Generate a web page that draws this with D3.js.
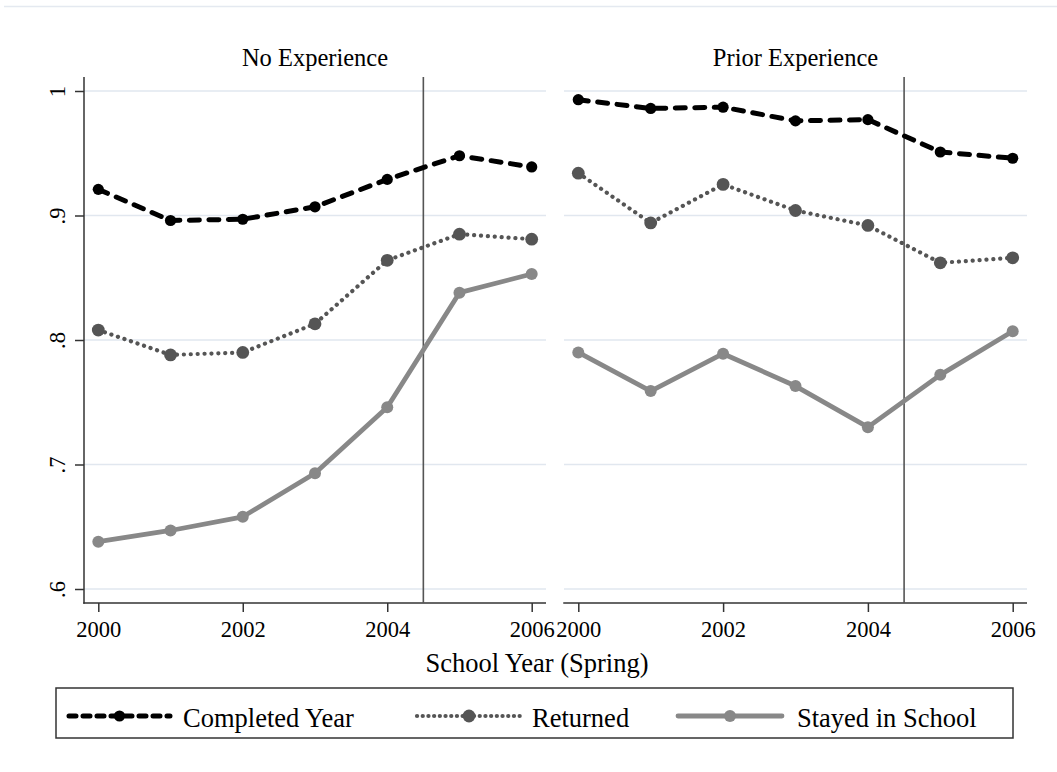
<!DOCTYPE html>
<html>
<head>
<meta charset="utf-8">
<script src="https://cdn.jsdelivr.net/npm/d3@7"></script>
<style>
  html, body { margin: 0; padding: 0; background: #fff; }
  svg { display: block; }
  text { font-family: "Liberation Serif", "Times New Roman", serif; fill: #000; }
</style>
</head>
<body>
<svg id="chart" width="1057" height="772"></svg>
<script>
// School years (spring term)
const years = [2000, 2001, 2002, 2003, 2004, 2005, 2006];
const panels = ["No Experience", "Prior Experience"];
const seriesNames = ["Completed Year", "Returned", "Stayed in School"];

// Shares by panel
const completedNoExp    = [0.921, 0.896, 0.897, 0.907, 0.929, 0.948, 0.939];
const returnedNoExp     = [0.808, 0.788, 0.790, 0.813, 0.864, 0.885, 0.881];
const stayedNoExp       = [0.638, 0.647, 0.658, 0.693, 0.746, 0.838, 0.853];
const completedPriorExp = [0.993, 0.986, 0.987, 0.976, 0.977, 0.951, 0.946];
const returnedPriorExp  = [0.934, 0.894, 0.925, 0.904, 0.892, 0.862, 0.866];
const stayedPriorExp    = [0.790, 0.759, 0.789, 0.763, 0.730, 0.772, 0.807];

const yTicks = [0.6, 0.7, 0.8, 0.9, 1.0];
const yTickLabels = [".6", ".7", ".8", ".9", "1"];
const xTicks = [2000, 2002, 2004, 2006];
const policyYear = 2004.5;

const panelData = [
  [completedNoExp, returnedNoExp, stayedNoExp],
  [completedPriorExp, returnedPriorExp, stayedPriorExp]
];

// Series styling
const styles = [
  { color: "#000000", width: 5.0, dash: "10,9.5", legendDash: "7,7", cap: "round", r: 5.6 },
  { color: "#555555", width: 4.2, dash: "0.1,6.8", legendDash: "0.1,5.6", cap: "round", r: 6.4 },
  { color: "#888888", width: 4.8, dash: null, legendDash: null, cap: "butt", r: 6.0 }
];

const svg = d3.select("#chart");

// Outer graph-region edge
svg.append("line")
  .attr("x1", 4).attr("x2", 1057).attr("y1", 6.5).attr("y2", 6.5)
  .attr("stroke", "#e4e9f0").attr("stroke-width", 1.5);

const plotTop = 77, plotBottom = 603;
const panelBoxes = [
  { left: 84, right: 546 },
  { left: 564, right: 1027 }
];
const xInset = 14.3;

const y = d3.scaleLinear().domain([0.6, 1.0]).range([589, 91]);

panelBoxes.forEach((box, pi) => {
  const x = d3.scaleLinear()
    .domain([d3.min(years), d3.max(years)])
    .range([box.left + xInset, box.right - xInset]);
  const g = svg.append("g");

  // Horizontal gridlines
  g.selectAll("line.grid").data(yTicks).join("line")
    .attr("class", "grid")
    .attr("x1", box.left).attr("x2", box.right)
    .attr("y1", d => y(d)).attr("y2", d => y(d))
    .attr("stroke", "#e1e7ef").attr("stroke-width", 1.6);

  // Panel title
  g.append("text")
    .attr("x", (box.left + box.right) / 2).attr("y", 66)
    .attr("text-anchor", "middle")
    .style("font-size", "24.5px")
    .text(panels[pi]);

  // Bottom axis
  const xAxis = d3.axisBottom(x).tickValues(xTicks).tickSize(9).tickFormat(d3.format("d"));
  const xg = g.append("g").attr("transform", `translate(0,${plotBottom})`).call(xAxis);
  xg.select(".domain").remove();
  xg.selectAll(".tick line").attr("stroke", "#333").attr("stroke-width", 1.5);
  xg.selectAll(".tick text")
    .attr("y", 34).attr("dy", 0)
    .style("font-size", "22.5px")
    .style("font-family", "'Liberation Serif', 'Times New Roman', serif")
    .attr("fill", "#000");
  g.append("line")
    .attr("x1", box.left - 0.75).attr("x2", box.right)
    .attr("y1", plotBottom).attr("y2", plotBottom)
    .attr("stroke", "#333").attr("stroke-width", 1.5);

  // Left axis only on first panel
  if (pi === 0) {
    const yAxis = d3.axisLeft(y).tickValues(yTicks).tickSize(9)
      .tickFormat((d, i) => yTickLabels[i]);
    const yg = g.append("g").attr("transform", `translate(${box.left},0)`).call(yAxis);
    yg.select(".domain").remove();
    yg.selectAll(".tick line").attr("stroke", "#333").attr("stroke-width", 1.5);
    yg.selectAll(".tick text")
      .attr("x", 0).attr("dy", 0)
      .attr("text-anchor", "middle")
      .attr("transform", "translate(-19,0) rotate(-90)")
      .style("font-size", "22.5px")
      .style("font-family", "'Liberation Serif', 'Times New Roman', serif")
      .attr("fill", "#000");
    g.append("line")
      .attr("x1", box.left).attr("x2", box.left)
      .attr("y1", plotTop).attr("y2", plotBottom + 0.75)
      .attr("stroke", "#333").attr("stroke-width", 1.5);
  }

  // Policy marker
  g.append("line")
    .attr("x1", x(policyYear)).attr("x2", x(policyYear))
    .attr("y1", plotTop).attr("y2", plotBottom)
    .attr("stroke", "#555").attr("stroke-width", 1.6);

  // Series lines and markers (draw lighter series first)
  const line = d3.line().x((d, i) => x(years[i])).y(d => y(d));
  [2, 1, 0].forEach(si => {
    const st = styles[si];
    const vals = panelData[pi][si];
    g.append("path")
      .datum(vals)
      .attr("d", line)
      .attr("fill", "none")
      .attr("stroke", st.color)
      .attr("stroke-width", st.width)
      .attr("stroke-linecap", st.cap)
      .attr("stroke-linejoin", "round")
      .attr("stroke-dasharray", st.dash);
    g.selectAll(null).data(vals).join("circle")
      .attr("cx", (d, i) => x(years[i]))
      .attr("cy", d => y(d))
      .attr("r", st.r)
      .attr("fill", st.color);
  });
});

// Shared x-axis title
svg.append("text")
  .attr("x", 537).attr("y", 672)
  .attr("text-anchor", "middle")
  .style("font-size", "26.5px")
  .text("School Year (Spring)");

// Legend
const legend = svg.append("g");
legend.append("rect")
  .attr("x", 56).attr("y", 688).attr("width", 957).attr("height", 50)
  .attr("fill", "#fff").attr("stroke", "#333").attr("stroke-width", 1.5);

const legendItems = [
  { x0: 69, x1: 170, tx: 183 },
  { x0: 417, x1: 521, tx: 532 },
  { x0: 678, x1: 782, tx: 797 }
];
legendItems.forEach((it, i) => {
  const st = styles[i];
  const ly = 716;
  legend.append("line")
    .attr("x1", it.x0).attr("x2", it.x1).attr("y1", ly).attr("y2", ly)
    .attr("stroke", st.color).attr("stroke-width", st.width)
    .attr("stroke-linecap", "round")
    .attr("stroke-dasharray", st.legendDash);
  legend.append("circle")
    .attr("cx", (it.x0 + it.x1) / 2).attr("cy", ly).attr("r", st.r)
    .attr("fill", st.color);
  legend.append("text")
    .attr("x", it.tx).attr("y", 727)
    .style("font-size", "26.5px")
    .text(seriesNames[i]);
});
</script>
</body>
</html>
